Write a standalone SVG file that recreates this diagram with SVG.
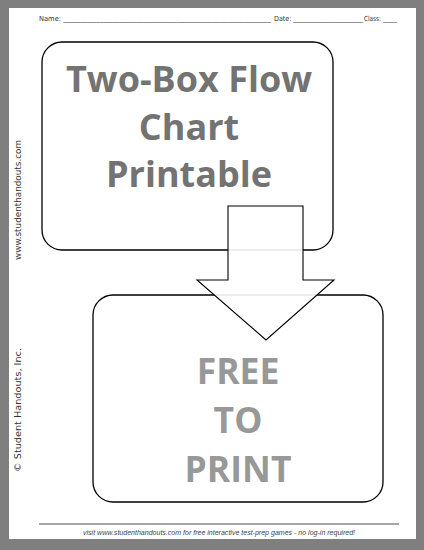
<svg xmlns="http://www.w3.org/2000/svg" width="424" height="550" viewBox="0 0 424 550">
  <style>
    .hdr { font-family: "DejaVu Sans Condensed", "Liberation Sans", sans-serif; font-size: 7px; fill: #333; }
    .side { font-family: "DejaVu Sans Condensed", "Liberation Sans", sans-serif; font-size: 8.5px; fill: #333; }
    .foot { font-family: "Liberation Sans", sans-serif; font-style: italic; font-size: 7px; fill: #444; }
    .box { fill: none; stroke: #000; stroke-width: 1.3; }
    .t1 { font-family: "Open Sans", "Noto Sans", sans-serif; font-weight: bold; font-size: 36px; fill: #737373; text-anchor: middle; }
    .t2 { font-family: "Open Sans", "Noto Sans", sans-serif; font-weight: bold; font-size: 35.5px; fill: #989898; text-anchor: middle; }
  </style>
  <rect x="0" y="0" width="424" height="550" fill="#7f7f7f"/>
  <rect x="9" y="8" width="407" height="531" fill="#ffffff"/>

  <g id="header">
    <text class="hdr" x="39" y="21" textLength="232" lengthAdjust="spacingAndGlyphs">Name: ______________________________________________________________</text>
    <text class="hdr" x="274" y="21" textLength="89" lengthAdjust="spacingAndGlyphs">Date: ______________________</text>
    <text class="hdr" x="364" y="21" textLength="33" lengthAdjust="spacingAndGlyphs">Class: _____</text>
  </g>

  <g id="sidebar">
    <text class="side" transform="translate(21,260) rotate(-90)" textLength="120" lengthAdjust="spacingAndGlyphs">www.studenthandouts.com</text>
    <text class="side" transform="translate(21,472) rotate(-90)" textLength="124" lengthAdjust="spacingAndGlyphs">© Student Handouts, Inc.</text>
  </g>

  <g id="box1">
    <rect class="box" x="42" y="42" width="291" height="208" rx="20" ry="20"/>
    <text class="t1" x="189" y="92">Two-Box Flow</text>
    <text class="t1" x="189" y="140">Chart</text>
    <text class="t1" x="189" y="187">Printable</text>
  </g>

  <g id="box2">
    <rect class="box" x="93" y="295" width="290" height="207" rx="20" ry="20"/>
    <text class="t2" x="238" y="384">FREE</text>
    <text class="t2" x="238" y="433">TO</text>
    <text class="t2" x="238" y="482">PRINT</text>
  </g>

  <g id="connectors">
    <polygon points="228,206 303,206 303,280 334,280 266,340 197,280 228,280" fill="#ffffff" fill-opacity="0.9" stroke="#000" stroke-width="1.1" stroke-linejoin="miter"/>
  </g>

  <g id="footer">
    <line x1="39" y1="524" x2="399" y2="524" stroke="#a6a6a6" stroke-width="2"/>
    <text class="foot" x="83" y="535" textLength="272" lengthAdjust="spacingAndGlyphs">visit www.studenthandouts.com for free interactive test-prep games - no log-in required!</text>
  </g>
</svg>
